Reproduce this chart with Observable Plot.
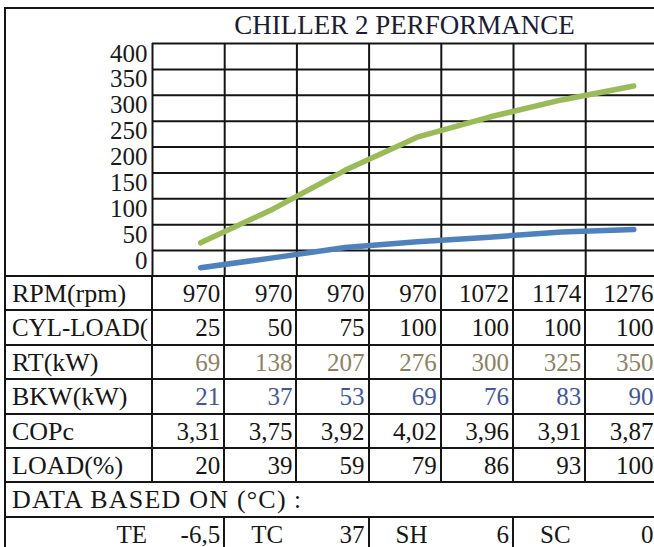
<!DOCTYPE html>
<html><head><meta charset="utf-8">
<script src="https://cdn.jsdelivr.net/npm/d3@7"></script>
<script src="https://cdn.jsdelivr.net/npm/@observablehq/plot@0.6"></script>
<style>
html,body{margin:0;padding:0;background:#fff;}
#wrap{position:relative;width:654px;height:547px;overflow:hidden;font-family:"Liberation Serif","DejaVu Serif",serif;color:#161616;}
#wrap svg{position:absolute;left:0;top:0;}
.ln{position:absolute;background:#151515;}
.cell{position:absolute;box-sizing:border-box;white-space:nowrap;overflow:hidden;font-size:25px;}
#title{position:absolute;left:152px;width:505px;top:12px;text-align:center;font-size:27px;line-height:27px;color:#1c1c33;white-space:nowrap;}
</style></head><body><div id="wrap"><div id="title"></div></div>
<script>
// ---- data ----
const chartTitle = "CHILLER 2 PERFORMANCE";
const yTicks = [0, 50, 100, 150, 200, 250, 300, 350, 400];
const greenSeries = [15, 80, 155, 219, 258, 291, 318];   // plotted green line (axis units)
const blueSeries = [-33, -14, 6, 17, 26, 36, 41];        // plotted blue line (axis units)
const rowLabels = ["RPM(rpm)", "CYL-LOAD(", "RT(kW)", "BKW(kW)", "COPc", "LOAD(%)"];
const rpm = [970, 970, 970, 970, 1072, 1174, 1276];
const cylLoad = [25, 50, 75, 100, 100, 100, 100];
const rtKW = [69, 138, 207, 276, 300, 325, 350];
const bkwKW = [21, 37, 53, 69, 76, 83, 90];
const copc = ["3,31", "3,75", "3,92", "4,02", "3,96", "3,91", "3,87"];
const loadPct = [20, 39, 59, 79, 86, 93, 100];
const basisLabel = "DATA BASED ON (°C)";
const basisNames = ["TE", "TC", "SH", "SC"];
const basisValues = ["-6,5", "37", "6", "0"];

// ---- layout ----
const FONT = '"Liberation Serif","DejaVu Serif",serif';
const X0 = 152, COLW = 72.2, LEFT = 5, TTOP = 276, ROWH = 34.4, W = 654;
const wrap = document.getElementById("wrap");
document.getElementById("title").textContent = chartTitle;

const pts = d3.range(7).map(i => ({i: i + 0.5, g: greenSeries[i], b: blueSeries[i]}));
const chart = Plot.plot({
  width: W, height: 277, marginTop: 43, marginBottom: 1, marginLeft: X0, marginRight: 0,
  style: {fontFamily: FONT, background: "transparent"},
  x: {domain: [0, 7], range: [X0, X0 + 7 * COLW], axis: null},
  y: {domain: [-50, 400]},
  marks: [
    Plot.ruleY(d3.range(-50, 401, 50), {stroke: "#151515", strokeWidth: 2, strokeOpacity: 1}),
    Plot.ruleX(d3.range(0, 7), {stroke: "#151515", strokeWidth: 2, strokeOpacity: 1}),
    Plot.line(pts, {x: "i", y: "g", stroke: "#9bbb59", strokeWidth: 5.5, dx: 12}),
    Plot.line(pts, {x: "i", y: "b", stroke: "#4f81bd", strokeWidth: 5.5, dx: 12}),
    Plot.axisY({ticks: yTicks, tickSize: 0, tickPadding: 5, fontSize: 25, dy: 10, fill: "#1a1a1a", label: null})
  ]
});
wrap.insertBefore(chart, wrap.firstChild);

function line(x, y, w, h) {
  const d = document.createElement("div");
  d.className = "ln";
  Object.assign(d.style, {left: x + "px", top: y + "px", width: w + "px", height: h + "px"});
  wrap.appendChild(d);
}
function cell(text, x, y, w, opts = {}) {
  const d = document.createElement("div");
  d.className = "cell";
  d.textContent = text;
  Object.assign(d.style, {left: x + "px", top: (y + 1) + "px", width: w + "px", height: ROWH + "px", lineHeight: ROWH + "px"}, opts);
  wrap.appendChild(d);
}

// outer border
line(LEFT - 1, 7, 2, 547);
line(LEFT - 1, 7, W, 2);

// table grid
for (let k = 0; k <= 7; k++) line(LEFT, TTOP + k * ROWH - 1, W, 2);
for (let c = 0; c <= 6; c++) line(X0 + c * COLW - 1, TTOP, 2, 6 * ROWH);
[1, 3, 5].forEach(c => line(X0 + c * COLW - 1, TTOP + 7 * ROWH, 2, ROWH + 10));

const rows = [rpm, cylLoad, rtKW, bkwKW, copc, loadPct];
const rowColors = ["#161616", "#161616", "#8c8263", "#41589a", "#161616", "#161616"];
rows.forEach((vals, r) => {
  const y = TTOP + r * ROWH;
  cell(rowLabels[r], LEFT + 1, y, X0 - LEFT - 1, {paddingLeft: "6px", fontSize: r === 1 ? "25px" : "26px"});
  vals.forEach((v, c) => cell(String(v), X0 + c * COLW, y, COLW, {textAlign: "right", paddingRight: "4px", color: rowColors[r]}));
});
const yB = TTOP + 6 * ROWH;
cell(basisLabel, LEFT + 1, yB, 285, {paddingLeft: "6px", fontSize: "26px", letterSpacing: "1.2px"});
cell(":", 294, yB, 20, {});
const yE = TTOP + 7 * ROWH;
cell(basisNames[0], LEFT + 1, yE, X0 - LEFT - 2, {textAlign: "right", paddingRight: "4px"});
cell(basisValues[0], X0, yE, COLW, {textAlign: "right", paddingRight: "4px"});
[1, 2, 3].forEach(k => {
  const cx = X0 + (2 * k - 1) * COLW;
  cell(basisNames[k], cx, yE, COLW, {paddingLeft: "27px"});
  cell(basisValues[k], cx + COLW, yE, COLW, {textAlign: "right", paddingRight: "4px"});
});
</script></body></html>
